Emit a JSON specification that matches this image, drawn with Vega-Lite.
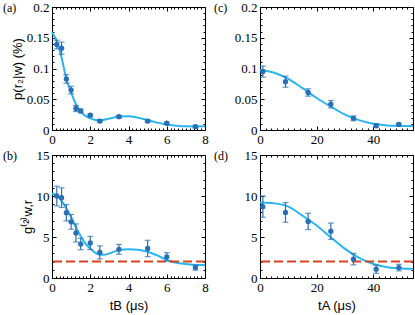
{
  "$schema": "https://vega.github.io/schema/vega-lite/v6.json",
  "padding": {"left": 2, "top": 0, "right": 0, "bottom": 0},
  "bounds": "flush",
  "columns": 2,
  "spacing": {"row": 25, "column": 55},
  "config": {
    "view": {"stroke": "black", "strokeWidth": 1},
    "axis": {
      "domain": false, "grid": false, "format": "~g",
      "labelFont": "Liberation Serif", "labelFontSize": 13, "labelColor": "#000",
      "tickColor": "#000", "tickWidth": 1, "labelPadding": 7,
      "titleFont": "Liberation Sans", "titleFontSize": 13, "titleFontWeight": "normal", "titleColor": "#000",
      "labelOverlap": false, "labelFlush": false, "labelBound": false
    },
    "title": {"font": "Liberation Serif", "fontSize": 12, "fontWeight": "normal", "anchor": "start", "frame": "group", "offset": -14, "color": "#000"}
  },
  "datasets": {
    "fitA": [
      {"t": 0, "v": 0.159}, {"t": 0.25, "v": 0.144}, {"t": 0.5, "v": 0.118}, {"t": 0.75, "v": 0.083},
      {"t": 1.0, "v": 0.061}, {"t": 1.25, "v": 0.042}, {"t": 1.5, "v": 0.030}, {"t": 1.75, "v": 0.023},
      {"t": 2.0, "v": 0.019}, {"t": 2.5, "v": 0.0155}, {"t": 3.0, "v": 0.0185}, {"t": 3.5, "v": 0.022},
      {"t": 4.0, "v": 0.0225}, {"t": 4.5, "v": 0.020}, {"t": 5.0, "v": 0.016}, {"t": 5.5, "v": 0.012},
      {"t": 6.0, "v": 0.009}, {"t": 6.5, "v": 0.007}, {"t": 7.0, "v": 0.006}, {"t": 7.5, "v": 0.0058}, {"t": 8.0, "v": 0.006}
    ],
    "ptsA": [
      {"t": 0.25, "v": 0.139, "lo": 0.132, "hi": 0.146},
      {"t": 0.5, "v": 0.133, "lo": 0.123, "hi": 0.143},
      {"t": 0.75, "v": 0.083, "lo": 0.076, "hi": 0.090},
      {"t": 1.0, "v": 0.065, "lo": 0.059, "hi": 0.071},
      {"t": 1.25, "v": 0.035, "lo": 0.030, "hi": 0.040},
      {"t": 1.5, "v": 0.031, "lo": 0.028, "hi": 0.034},
      {"t": 2.0, "v": 0.024, "lo": 0.022, "hi": 0.026},
      {"t": 2.5, "v": 0.0146, "lo": 0.0126, "hi": 0.0166},
      {"t": 3.5, "v": 0.0216, "lo": 0.0196, "hi": 0.0236},
      {"t": 5.0, "v": 0.0146, "lo": 0.0126, "hi": 0.0166},
      {"t": 6.0, "v": 0.011, "lo": 0.009, "hi": 0.013},
      {"t": 7.5, "v": 0.0054, "lo": 0.0034, "hi": 0.0074}
    ],
    "fitB": [
      {"t": 0, "v": 10.3}, {"t": 0.25, "v": 10.0}, {"t": 0.5, "v": 9.4}, {"t": 0.75, "v": 8.5},
      {"t": 1.0, "v": 7.4}, {"t": 1.25, "v": 6.2}, {"t": 1.5, "v": 5.1}, {"t": 1.75, "v": 4.2},
      {"t": 2.0, "v": 3.6}, {"t": 2.25, "v": 3.1}, {"t": 2.5, "v": 2.85}, {"t": 2.75, "v": 2.85},
      {"t": 3.0, "v": 3.0}, {"t": 3.5, "v": 3.4}, {"t": 4.0, "v": 3.5}, {"t": 4.5, "v": 3.45},
      {"t": 5.0, "v": 3.2}, {"t": 5.5, "v": 2.75}, {"t": 6.0, "v": 2.2}, {"t": 6.5, "v": 1.85},
      {"t": 7.0, "v": 1.7}, {"t": 7.5, "v": 1.6}, {"t": 8.0, "v": 1.6}
    ],
    "ptsB": [
      {"t": 0.25, "v": 10.0, "lo": 8.8, "hi": 11.2},
      {"t": 0.5, "v": 9.8, "lo": 8.6, "hi": 11.0},
      {"t": 0.75, "v": 7.96, "lo": 6.96, "hi": 8.96},
      {"t": 1.0, "v": 6.85, "lo": 5.95, "hi": 7.75},
      {"t": 1.25, "v": 5.5, "lo": 4.4, "hi": 6.6},
      {"t": 1.5, "v": 4.14, "lo": 3.44, "hi": 4.84},
      {"t": 2.0, "v": 4.27, "lo": 3.47, "hi": 5.07},
      {"t": 2.5, "v": 3.12, "lo": 2.32, "hi": 3.92},
      {"t": 3.5, "v": 3.5, "lo": 2.9, "hi": 4.1},
      {"t": 5.0, "v": 3.6, "lo": 2.6, "hi": 4.6},
      {"t": 6.0, "v": 2.58, "lo": 2.08, "hi": 3.08},
      {"t": 7.5, "v": 1.27, "lo": 0.97, "hi": 1.57}
    ],
    "fitC": [
      {"t": 0, "v": 0.0975}, {"t": 5, "v": 0.093}, {"t": 10, "v": 0.083}, {"t": 15, "v": 0.068},
      {"t": 20, "v": 0.052}, {"t": 25, "v": 0.038}, {"t": 30, "v": 0.025}, {"t": 35, "v": 0.016},
      {"t": 40, "v": 0.010}, {"t": 45, "v": 0.0075}, {"t": 50, "v": 0.0067}, {"t": 54, "v": 0.0065}
    ],
    "ptsC": [
      {"t": 1, "v": 0.095, "lo": 0.086, "hi": 0.104},
      {"t": 9, "v": 0.0785, "lo": 0.0695, "hi": 0.0875},
      {"t": 17, "v": 0.061, "lo": 0.055, "hi": 0.067},
      {"t": 25, "v": 0.042, "lo": 0.036, "hi": 0.048},
      {"t": 33, "v": 0.019, "lo": 0.015, "hi": 0.023},
      {"t": 41, "v": 0.007, "lo": 0.004, "hi": 0.010},
      {"t": 49, "v": 0.009, "lo": 0.007, "hi": 0.011}
    ],
    "fitD": [
      {"t": 0, "v": 9.2}, {"t": 5, "v": 9.1}, {"t": 10, "v": 8.7}, {"t": 15, "v": 7.6},
      {"t": 20, "v": 6.4}, {"t": 25, "v": 4.95}, {"t": 30, "v": 3.55}, {"t": 35, "v": 2.45},
      {"t": 40, "v": 1.7}, {"t": 45, "v": 1.3}, {"t": 50, "v": 1.15}, {"t": 54, "v": 1.12}
    ],
    "ptsD": [
      {"t": 1, "v": 8.7, "lo": 7.4, "hi": 10.0},
      {"t": 9, "v": 8.0, "lo": 6.8, "hi": 9.2},
      {"t": 17, "v": 6.9, "lo": 5.9, "hi": 7.9},
      {"t": 25, "v": 5.7, "lo": 4.7, "hi": 6.7},
      {"t": 33, "v": 2.3, "lo": 1.6, "hi": 3.0},
      {"t": 41, "v": 1.07, "lo": 0.57, "hi": 1.57},
      {"t": 49, "v": 1.27, "lo": 0.87, "hi": 1.67}
    ],
    "thr": [{"g": 2}]
  },
  "concat": [
    {
      "width": 153, "height": 123,
      "title": {"text": "(a)", "dx": -49},
      "layer": [
        {"data": {"name": "fitA"}, "mark": {"type": "line", "color": "#29b5ef", "strokeWidth": 2, "interpolate": "monotone"},
         "encoding": {
           "x": {"field": "t", "type": "quantitative", "scale": {"domain": [0, 8], "nice": false},
                 "axis": {"orient": "bottom", "title": null, "values": [0,0.2,0.4,0.6,0.8,1,1.2,1.4,1.6,1.8,2,2.2,2.4,2.6,2.8,3,3.2,3.4,3.6,3.8,4,4.2,4.4,4.6,4.8,5,5.2,5.4,5.6,5.8,6,6.2,6.4,6.6,6.8,7,7.2,7.4,7.6,7.8,8],
                          "labelExpr": "abs(datum.value/2-round(datum.value/2))<0.001 ? datum.label : ''",
                          "tickSize": {"condition": {"test": "abs(datum.value/2-round(datum.value/2))<0.001", "value": -4}, "value": -2}}},
           "y": {"field": "v", "type": "quantitative", "scale": {"domain": [0, 0.2], "nice": false},
                 "axis": {"orient": "left", "title": "p(r₂|w) (%)", "titlePadding": 2, "values": [0,0.01,0.02,0.03,0.04,0.05,0.06,0.07,0.08,0.09,0.1,0.11,0.12,0.13,0.14,0.15,0.16,0.17,0.18,0.19,0.2],
                          "labelExpr": "abs(datum.value*20-round(datum.value*20))<0.001 ? datum.label : ''",
                          "tickSize": {"condition": {"test": "abs(datum.value*20-round(datum.value*20))<0.001", "value": -4}, "value": -2}}}
         }},
        {"data": {"name": "ptsA"}, "mark": {"type": "errorbar", "ticks": {"size": 6}, "color": "#2a6fb4", "thickness": 1.2},
         "encoding": {"x": {"field": "t", "type": "quantitative", "axis": null}, "y": {"field": "lo", "type": "quantitative", "axis": null}, "y2": {"field": "hi"}}},
        {"data": {"name": "ptsA"}, "mark": {"type": "circle", "size": 28, "color": "#2a6fb4", "opacity": 1},
         "encoding": {
           "x": {"field": "t", "type": "quantitative",
                 "axis": {"orient": "top", "title": null, "labels": false, "values": [0,0.2,0.4,0.6,0.8,1,1.2,1.4,1.6,1.8,2,2.2,2.4,2.6,2.8,3,3.2,3.4,3.6,3.8,4,4.2,4.4,4.6,4.8,5,5.2,5.4,5.6,5.8,6,6.2,6.4,6.6,6.8,7,7.2,7.4,7.6,7.8,8],
                          "tickSize": {"condition": {"test": "abs(datum.value/2-round(datum.value/2))<0.001", "value": -4}, "value": -2}}},
           "y": {"field": "v", "type": "quantitative",
                 "axis": {"orient": "right", "title": null, "labels": false, "values": [0,0.01,0.02,0.03,0.04,0.05,0.06,0.07,0.08,0.09,0.1,0.11,0.12,0.13,0.14,0.15,0.16,0.17,0.18,0.19,0.2],
                          "tickSize": {"condition": {"test": "abs(datum.value*20-round(datum.value*20))<0.001", "value": -4}, "value": -2}}}
         }}
      ]
    },
    {
      "width": 153, "height": 123,
      "title": {"text": "(c)", "dx": -46},
      "layer": [
        {"data": {"name": "fitC"}, "mark": {"type": "line", "color": "#29b5ef", "strokeWidth": 2, "interpolate": "monotone"},
         "encoding": {
           "x": {"field": "t", "type": "quantitative", "scale": {"domain": [0, 54], "nice": false},
                 "axis": {"orient": "bottom", "title": null, "values": [0,2,4,6,8,10,12,14,16,18,20,22,24,26,28,30,32,34,36,38,40,42,44,46,48,50,52,54],
                          "labelExpr": "datum.value % 20 == 0 ? datum.label : ''",
                          "tickSize": {"condition": {"test": "datum.value % 20 == 0", "value": -4}, "value": -2}}},
           "y": {"field": "v", "type": "quantitative", "scale": {"domain": [0, 0.2], "nice": false},
                 "axis": {"orient": "left", "title": null, "values": [0,0.01,0.02,0.03,0.04,0.05,0.06,0.07,0.08,0.09,0.1,0.11,0.12,0.13,0.14,0.15,0.16,0.17,0.18,0.19,0.2],
                          "labelExpr": "abs(datum.value*20-round(datum.value*20))<0.001 ? datum.label : ''",
                          "tickSize": {"condition": {"test": "abs(datum.value*20-round(datum.value*20))<0.001", "value": -4}, "value": -2}}}
         }},
        {"data": {"name": "ptsC"}, "mark": {"type": "errorbar", "ticks": {"size": 6}, "color": "#2a6fb4", "thickness": 1.2},
         "encoding": {"x": {"field": "t", "type": "quantitative", "axis": null}, "y": {"field": "lo", "type": "quantitative", "axis": null}, "y2": {"field": "hi"}}},
        {"data": {"name": "ptsC"}, "mark": {"type": "circle", "size": 28, "color": "#2a6fb4", "opacity": 1},
         "encoding": {
           "x": {"field": "t", "type": "quantitative",
                 "axis": {"orient": "top", "title": null, "labels": false, "values": [0,2,4,6,8,10,12,14,16,18,20,22,24,26,28,30,32,34,36,38,40,42,44,46,48,50,52,54],
                          "tickSize": {"condition": {"test": "datum.value % 20 == 0", "value": -4}, "value": -2}}},
           "y": {"field": "v", "type": "quantitative",
                 "axis": {"orient": "right", "title": null, "labels": false, "values": [0,0.01,0.02,0.03,0.04,0.05,0.06,0.07,0.08,0.09,0.1,0.11,0.12,0.13,0.14,0.15,0.16,0.17,0.18,0.19,0.2],
                          "tickSize": {"condition": {"test": "abs(datum.value*20-round(datum.value*20))<0.001", "value": -4}, "value": -2}}}
         }}
      ]
    },
    {
      "width": 153, "height": 123,
      "title": {"text": "(b)", "dx": -49},
      "layer": [
        {"data": {"name": "fitB"}, "mark": {"type": "line", "color": "#29b5ef", "strokeWidth": 2, "interpolate": "monotone"},
         "encoding": {
           "x": {"field": "t", "type": "quantitative", "scale": {"domain": [0, 8], "nice": false},
                 "axis": {"orient": "bottom", "title": "tB (μs)", "titlePadding": 3, "values": [0,0.2,0.4,0.6,0.8,1,1.2,1.4,1.6,1.8,2,2.2,2.4,2.6,2.8,3,3.2,3.4,3.6,3.8,4,4.2,4.4,4.6,4.8,5,5.2,5.4,5.6,5.8,6,6.2,6.4,6.6,6.8,7,7.2,7.4,7.6,7.8,8],
                          "labelExpr": "abs(datum.value/2-round(datum.value/2))<0.001 ? datum.label : ''",
                          "tickSize": {"condition": {"test": "abs(datum.value/2-round(datum.value/2))<0.001", "value": -4}, "value": -2}}},
           "y": {"field": "v", "type": "quantitative", "scale": {"domain": [0, 15], "nice": false},
                 "axis": {"orient": "left", "title": "g⁽²⁾w,r", "titlePadding": 2, "values": [0,1,2,3,4,5,6,7,8,9,10,11,12,13,14,15],
                          "labelExpr": "datum.value % 5 == 0 ? datum.label : ''",
                          "tickSize": {"condition": {"test": "datum.value % 5 == 0", "value": -4}, "value": -2}}}
         }},
        {"data": {"name": "thr"}, "mark": {"type": "rule", "color": "#d6441c", "strokeWidth": 2, "strokeDash": [9, 4]},
         "encoding": {"y": {"field": "g", "type": "quantitative", "axis": null}}},
        {"data": {"name": "ptsB"}, "mark": {"type": "errorbar", "ticks": {"size": 6}, "color": "#2a6fb4", "thickness": 1.2},
         "encoding": {"x": {"field": "t", "type": "quantitative", "axis": null}, "y": {"field": "lo", "type": "quantitative", "axis": null}, "y2": {"field": "hi"}}},
        {"data": {"name": "ptsB"}, "mark": {"type": "circle", "size": 28, "color": "#2a6fb4", "opacity": 1},
         "encoding": {
           "x": {"field": "t", "type": "quantitative",
                 "axis": {"orient": "top", "title": null, "labels": false, "values": [0,0.2,0.4,0.6,0.8,1,1.2,1.4,1.6,1.8,2,2.2,2.4,2.6,2.8,3,3.2,3.4,3.6,3.8,4,4.2,4.4,4.6,4.8,5,5.2,5.4,5.6,5.8,6,6.2,6.4,6.6,6.8,7,7.2,7.4,7.6,7.8,8],
                          "tickSize": {"condition": {"test": "abs(datum.value/2-round(datum.value/2))<0.001", "value": -4}, "value": -2}}},
           "y": {"field": "v", "type": "quantitative",
                 "axis": {"orient": "right", "title": null, "labels": false, "values": [0,1,2,3,4,5,6,7,8,9,10,11,12,13,14,15],
                          "tickSize": {"condition": {"test": "datum.value % 5 == 0", "value": -4}, "value": -2}}}
         }}
      ]
    },
    {
      "width": 153, "height": 123,
      "title": {"text": "(d)", "dx": -46},
      "layer": [
        {"data": {"name": "fitD"}, "mark": {"type": "line", "color": "#29b5ef", "strokeWidth": 2, "interpolate": "monotone"},
         "encoding": {
           "x": {"field": "t", "type": "quantitative", "scale": {"domain": [0, 54], "nice": false},
                 "axis": {"orient": "bottom", "title": "tA (μs)", "titlePadding": 3, "values": [0,2,4,6,8,10,12,14,16,18,20,22,24,26,28,30,32,34,36,38,40,42,44,46,48,50,52,54],
                          "labelExpr": "datum.value % 20 == 0 ? datum.label : ''",
                          "tickSize": {"condition": {"test": "datum.value % 20 == 0", "value": -4}, "value": -2}}},
           "y": {"field": "v", "type": "quantitative", "scale": {"domain": [0, 15], "nice": false},
                 "axis": {"orient": "left", "title": null, "values": [0,1,2,3,4,5,6,7,8,9,10,11,12,13,14,15],
                          "labelExpr": "datum.value % 5 == 0 ? datum.label : ''",
                          "tickSize": {"condition": {"test": "datum.value % 5 == 0", "value": -4}, "value": -2}}}
         }},
        {"data": {"name": "thr"}, "mark": {"type": "rule", "color": "#d6441c", "strokeWidth": 2, "strokeDash": [9, 4]},
         "encoding": {"y": {"field": "g", "type": "quantitative", "axis": null}}},
        {"data": {"name": "ptsD"}, "mark": {"type": "errorbar", "ticks": {"size": 6}, "color": "#2a6fb4", "thickness": 1.2},
         "encoding": {"x": {"field": "t", "type": "quantitative", "axis": null}, "y": {"field": "lo", "type": "quantitative", "axis": null}, "y2": {"field": "hi"}}},
        {"data": {"name": "ptsD"}, "mark": {"type": "circle", "size": 28, "color": "#2a6fb4", "opacity": 1},
         "encoding": {
           "x": {"field": "t", "type": "quantitative",
                 "axis": {"orient": "top", "title": null, "labels": false, "values": [0,2,4,6,8,10,12,14,16,18,20,22,24,26,28,30,32,34,36,38,40,42,44,46,48,50,52,54],
                          "tickSize": {"condition": {"test": "datum.value % 20 == 0", "value": -4}, "value": -2}}},
           "y": {"field": "v", "type": "quantitative",
                 "axis": {"orient": "right", "title": null, "labels": false, "values": [0,1,2,3,4,5,6,7,8,9,10,11,12,13,14,15],
                          "tickSize": {"condition": {"test": "datum.value % 5 == 0", "value": -4}, "value": -2}}}
         }}
      ]
    }
  ]
}
